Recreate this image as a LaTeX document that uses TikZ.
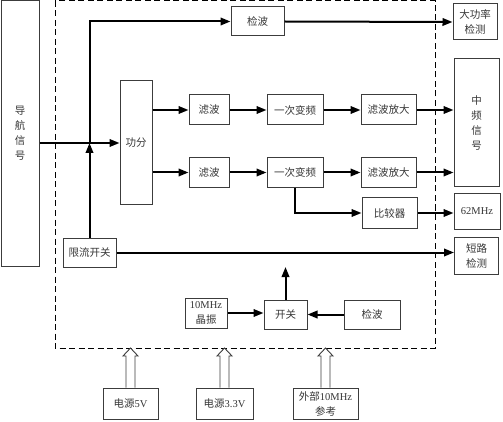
\documentclass[tikz,border=0pt]{standalone}
\usepackage{fontspec}
\setmainfont{Liberation Serif}
\newfontfamily\cjk{Noto Sans CJK SC}
\newcommand{\en}[1]{{\rmfamily #1}}
\usetikzlibrary{
  arrows.meta,
  calc
}
\definecolor{boxcolor}{RGB}{60, 60, 60}
\definecolor{linecolor}{RGB}{0, 0, 0}
\definecolor{labelcolor}{RGB}{55, 55, 55}
\tikzset{
blocktext/.style={
  align=center,
  font=\fontsize{10.5}{15}\selectfont\cjk,
  text=labelcolor
},
block/.style={
  draw=boxcolor,
  line width=1pt,
  inner sep=0pt,
  fill=white,
  blocktext
},
frame/.style={
  draw=linecolor,
  line width=1pt,
  dash pattern=on 6pt off 3.5pt
},
arrow/.style={
  -{Triangle[length=10pt,width=7.5pt]},
  line width=2pt,
  draw=linecolor
},
hollowarrow/.style={
  draw=boxcolor,
  line width=0.9pt,
  fill=white,
  line join=miter
}
}

\begin{document}
\begin{tikzpicture}[x=1pt, y=-1pt]
  \useasboundingbox (0,0) rectangle (503,422);

  % --- module frame ---
  \draw[frame] (55,1) rectangle (435,348);
  \coordinate (framebot) at (0,348);

  % --- input and splitter ---
  \node[block, minimum width=38pt, minimum height=265pt] (nav) at (20,133.5)
    {导\\航\\信\\号};
  \node[block, minimum width=32pt, minimum height=124pt] (gongfen) at (136,143) {功分};
  \node[block, minimum width=53pt, minimum height=29pt] (jianbo1) at (257.5,21.5) {检波};
  \node[block, minimum width=53pt, minimum height=29pt] (xianliu) at (89.5,252.5) {限流开关};

  % --- two IF channels ---
  \node[block, minimum width=40pt, minimum height=30pt] (lvbo1) at (209,110) {滤波};
  \node[block, minimum width=40pt, minimum height=30pt] (lvbo2) at (209,172.5) {滤波};
  \node[block, minimum width=56pt, minimum height=30pt] (bianpin1) at (295,110) {一次变频};
  \node[block, minimum width=56pt, minimum height=30pt] (bianpin2) at (295,172.5) {一次变频};
  \node[block, minimum width=55pt, minimum height=30pt] (fangda1) at (388.5,110) {滤波放大};
  \node[block, minimum width=55pt, minimum height=30pt] (fangda2) at (388.5,172.5) {滤波放大};
  \node[block, minimum width=55pt, minimum height=30pt] (bijiao) at (389.5,213) {比较器};

  % --- reference switching ---
  \node[block, minimum width=42pt, minimum height=30pt] (jingzhen) at (206,313)
    {\en{10MHz}\\晶振};
  \node[block, minimum width=43pt, minimum height=29pt] (kaiguan) at (285.5,314.5) {开关};
  \node[block, minimum width=56pt, minimum height=29pt] (jianbo2) at (372,314.5) {检波};
  \coordinate (kgtip) at (285.5,267);

  % --- outputs ---
  \node[block, minimum width=44pt, minimum height=36pt] (dagonglv) at (475,22)
    {大功率\\检测};
  \node[block, minimum width=45pt, minimum height=128pt] (zhongpin) at (476.5,123)
    {中\\频\\信\\号};
  \node[block, minimum width=46pt, minimum height=35pt] (mhz62) at (477,211.5) {\en{62MHz}};
  \node[block, minimum width=44pt, minimum height=37pt] (duanlu) at (476.5,255.5)
    {短路\\检测};

  % --- supplies ---
  \node[block, minimum width=55pt, minimum height=31pt] (pow5) at (130.5,403.5) {电源\en{5V}};
  \node[block, minimum width=57pt, minimum height=31pt] (pow33) at (224.5,403.5) {电源\en{3.3V}};
  \node[block, minimum width=65pt, minimum height=31pt] (ext) at (325.5,403.5)
    {外部\en{10MHz}\\参考};

  % --- connectors ---
  \coordinate (split) at (xianliu.north |- gongfen.west);
  \draw[arrow] (nav.east |- gongfen.west) -- (gongfen.west);
  \draw[arrow] (xianliu.north) -- (split);
  \draw[arrow] (split) |- (jianbo1.west);
  \draw[arrow] (jianbo1.east) -- (dagonglv.west);

  \draw[arrow] (gongfen.east |- lvbo1.west) -- (lvbo1.west);
  \draw[arrow] (lvbo1.east) -- (bianpin1.west);
  \draw[arrow] (bianpin1.east) -- (fangda1.west);
  \draw[arrow] (fangda1.east) -- (fangda1.east -| zhongpin.west);

  \draw[arrow] (gongfen.east |- lvbo2.west) -- (lvbo2.west);
  \draw[arrow] (lvbo2.east) -- (bianpin2.west);
  \draw[arrow] (bianpin2.east) -- (fangda2.west);
  \draw[arrow] (fangda2.east) -- (fangda2.east -| zhongpin.west);

  \draw[arrow] (bianpin2.south) |- (bijiao.west);
  \draw[arrow] (bijiao.east) -- (bijiao.east -| mhz62.west);
  \draw[arrow] (xianliu.east) -- (xianliu.east -| duanlu.west);

  \draw[arrow] (jingzhen.east) -- (jingzhen.east -| kaiguan.west);
  \draw[arrow] (jianbo2.west) -- (kaiguan.east);
  \draw[arrow] (kaiguan.north) -- (kgtip);

  % --- supply arrows ---
  \foreach \src in {pow5,pow33,ext} {
    \draw[hollowarrow] ($(\src.north)+(-4.5,0)$) -- ($(\src.north |- framebot)+(-4.5,8)$)
      -- ++(-3,0) -- (\src.north |- framebot) -- ($(\src.north |- framebot)+(7.5,8)$)
      -- ++(-3,0) -- ($(\src.north)+(4.5,0)$);
  }
\end{tikzpicture}
\end{document}
